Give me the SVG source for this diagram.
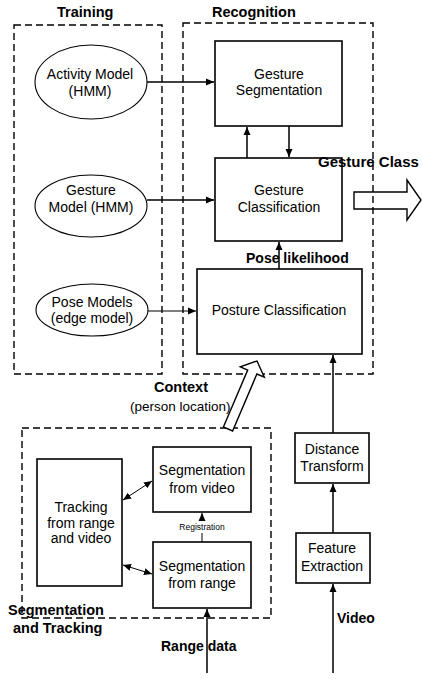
<svg xmlns="http://www.w3.org/2000/svg" width="422" height="685" viewBox="0 0 422 685">
<style>
text{font-family:"Liberation Sans",Arial,sans-serif;fill:#000}
.t{font-size:14px;text-anchor:middle}
.b{font-size:14.5px;font-weight:bold}
.box{fill:#fff;stroke:#000;stroke-width:1.6}
.ell{fill:#fff;stroke:#000;stroke-width:1.1}
.dash{fill:none;stroke:#000;stroke-width:1.4;stroke-dasharray:7 4}
.ln{fill:none;stroke:#000;stroke-width:1.5}
.thin{fill:none;stroke:#000;stroke-width:1}
.hollow{stroke:#000;stroke-width:1.4}
</style>
<defs>
<marker id="ah" markerUnits="userSpaceOnUse" markerWidth="9" markerHeight="8" refX="8" refY="4" orient="auto-start-reverse">
<path d="M0,0.5 L8,4 L0,7.5 Z" fill="#000"/>
</marker>
</defs>
<rect width="422" height="685" fill="#fff"/>

<g id="training">
<rect class="dash" x="14" y="25" width="148" height="349"/>
<text class="b" x="57" y="17">Training</text>
</g>
<g id="recognition">
<rect class="dash" x="183" y="23" width="190" height="351"/>
<text class="b" x="212" y="17">Recognition</text>
</g>
<g id="segtrack">
<rect class="dash" x="22" y="428" width="249" height="190"/>
<text class="b" x="8" y="615">Segmentation</text>
<text class="b" x="13" y="633">and Tracking</text>
</g>

<g id="activity-model">
<ellipse class="ell" cx="91" cy="82" rx="56" ry="37"/>
<text class="t" x="90" y="79">Activity Model</text>
<text class="t" x="90" y="96">(HMM)</text>
</g>
<g id="gesture-model">
<ellipse class="ell" cx="91" cy="206" rx="56" ry="31"/>
<text class="t" x="91" y="195">Gesture</text>
<text class="t" x="91" y="212">Model (HMM)</text>
</g>
<g id="pose-models">
<ellipse class="ell" cx="92" cy="310" rx="56" ry="26"/>
<text class="t" x="92" y="307">Pose Models</text>
<text class="t" x="92" y="323">(edge model)</text>
</g>

<g id="gesture-segmentation">
<rect class="box" x="215" y="41" width="127" height="85"/>
<text class="t" x="279" y="79">Gesture</text>
<text class="t" x="279" y="95">Segmentation</text>
</g>
<g id="gesture-classification">
<rect class="box" x="215" y="158" width="127" height="83"/>
<text class="t" x="279" y="195">Gesture</text>
<text class="t" x="279" y="212">Classification</text>
</g>
<g id="posture-classification">
<rect class="box" x="197" y="269" width="165" height="85"/>
<text class="t" x="279" y="315">Posture Classification</text>
</g>

<g id="tracking">
<rect class="box" x="37" y="459" width="85" height="127"/>
<text class="t" x="81" y="512">Tracking</text>
<text class="t" x="81" y="528">from range</text>
<text class="t" x="81" y="543">and video</text>
</g>
<g id="seg-video">
<rect class="box" x="153" y="447" width="98" height="65"/>
<text class="t" x="202" y="475">Segmentation</text>
<text class="t" x="202" y="493">from video</text>
</g>
<g id="seg-range">
<rect class="box" x="153" y="542" width="98" height="66"/>
<text class="t" x="202" y="571">Segmentation</text>
<text class="t" x="202" y="588">from range</text>
</g>
<g id="distance-transform">
<rect class="box" x="295" y="433" width="74" height="50"/>
<text class="t" x="332" y="454">Distance</text>
<text class="t" x="332" y="471">Transform</text>
</g>
<g id="feature-extraction">
<rect class="box" x="296" y="533" width="74" height="50"/>
<text class="t" x="332" y="553">Feature</text>
<text class="t" x="332" y="571">Extraction</text>
</g>

<g id="connectors">
<line class="ln" x1="147" y1="82" x2="214" y2="82" marker-end="url(#ah)"/>
<line class="ln" x1="147" y1="200" x2="214" y2="200" marker-end="url(#ah)"/>
<line class="thin" x1="148" y1="311" x2="196" y2="311" marker-end="url(#ah)"/>
<line class="ln" x1="247" y1="158" x2="247" y2="127" marker-end="url(#ah)"/>
<line class="ln" x1="289" y1="126" x2="289" y2="157" marker-end="url(#ah)"/>
<line class="ln" x1="279" y1="269" x2="279" y2="242" marker-end="url(#ah)"/>
<line class="ln" x1="333" y1="433" x2="333" y2="355" marker-end="url(#ah)"/>
<line class="ln" x1="333" y1="533" x2="333" y2="484" marker-end="url(#ah)"/>
<line class="ln" x1="333" y1="673" x2="333" y2="584" marker-end="url(#ah)"/>
<line class="ln" x1="207" y1="673" x2="207" y2="609" marker-end="url(#ah)"/>
<line class="thin" x1="123" y1="500" x2="152" y2="481" marker-start="url(#ah)" marker-end="url(#ah)"/>
<line class="thin" x1="123" y1="565" x2="152" y2="574" marker-start="url(#ah)" marker-end="url(#ah)"/>
<line class="thin" x1="202" y1="542" x2="202" y2="533"/>
<line class="thin" x1="202" y1="520" x2="202" y2="513" marker-end="url(#ah)"/>
<polygon class="hollow" fill="none" points="354,192 407,192 407,180 421,200 407,220 407,209 354,209"/>
<polygon class="hollow" fill="#fff" points="223.4,427 247.7,370 240.3,366.9 257,361 264.3,377.1 256.9,374 232.6,431"/>
<text class="b" x="246" y="263" style="font-size:14px">Pose likelihood</text>
<text class="b" x="318" y="167" style="font-size:15px">Gesture Class</text>
<text class="b" x="154" y="392">Context</text>
<text x="130" y="411" style="font-size:13.5px">(person location)</text>
<text x="202" y="530" style="font-size:8.5px;text-anchor:middle">Registration</text>
<text class="b" x="161" y="651" style="font-size:14px">Range data</text>
<text class="b" x="337" y="623" style="font-size:14px">Video</text>
</g>
</svg>
